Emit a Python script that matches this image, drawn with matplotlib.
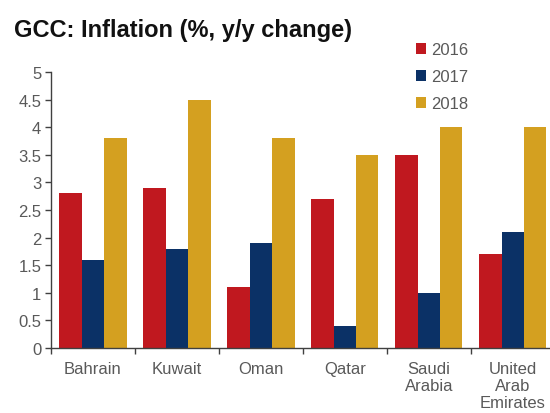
import numpy as np
import matplotlib
matplotlib.use('Agg')
import matplotlib.pyplot as plt

countries = ['Bahrain', 'Kuwait', 'Oman', 'Qatar', 'Saudi\nArabia', 'United\nArab\nEmirates']
years = ['2016', '2017', '2018']
infl_2016 = [2.8, 2.9, 1.1, 2.7, 3.5, 1.7]
infl_2017 = [1.6, 1.8, 1.9, 0.4, 1.0, 2.1]
infl_2018 = [3.8, 4.5, 3.8, 3.5, 4.0, 4.0]

colors = ['#C0181F', '#0B3166', '#D4A020']
gray = '#595959'

plt.rcParams['font.family'] = ['Liberation Sans', 'DejaVu Sans']

fig = plt.figure(figsize=(5.5, 4.14), dpi=100)
ax = fig.add_axes([0.0927, 0.157, 0.916, 0.6667])

x = np.arange(len(countries))
width = 0.267
for i, (vals, year) in enumerate(zip([infl_2016, infl_2017, infl_2018], years)):
    ax.bar(x + (i - 1) * width, vals, width=width, color=colors[i], label=year)

ax.set_xlim(-0.5, len(countries) - 0.5)
ax.set_ylim(0, 5)
ax.set_yticks(np.arange(0, 5.01, 0.5))
ax.set_yticklabels(['0', '0.5', '1', '1.5', '2', '2.5', '3', '3.5', '4', '4.5', '5'])

# category labels at the centres, tick marks between categories
ax.set_xticks(x)
ax.set_xticklabels(countries, linespacing=1.2, va='top')
ax.set_xticks(np.arange(-0.5, len(countries), 1), minor=True)
ax.tick_params(axis='x', which='major', length=0, pad=9, labelsize=12, labelcolor=gray)
ax.tick_params(axis='x', which='minor', length=4, width=1, color='#404040', direction='out')
ax.tick_params(axis='y', length=4, width=1, color='#404040', labelsize=12, labelcolor=gray, pad=3)

for s in ['top', 'right']:
    ax.spines[s].set_visible(False)
for s in ['left', 'bottom']:
    ax.spines[s].set_color('#404040')
    ax.spines[s].set_linewidth(1)

fig.text(0.025, 0.91, 'GCC: Inflation (%, y/y change)', fontsize=17,
         fontweight='bold', color='#111111', va='baseline')

fig.legend(loc='upper left', bbox_to_anchor=(0.756, 0.895), frameon=False,
           fontsize=12, labelcolor=gray, handlelength=0.6, handleheight=0.6,
           handletextpad=0.3, labelspacing=0.72, borderaxespad=0, borderpad=0)

fig.savefig('out.png', dpi=100)
